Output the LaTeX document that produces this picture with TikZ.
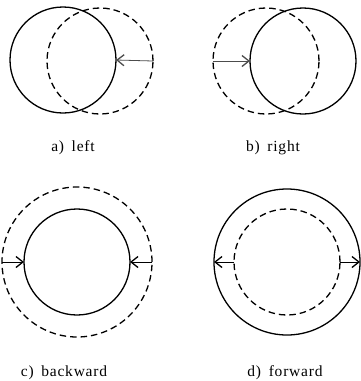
\documentclass[tikz,border=0pt]{standalone}
\usepackage{fontspec}
\setmainfont{Liberation Serif}
\newfontfamily\lblfont[LetterSpace=5]{Liberation Serif}
\usetikzlibrary{arrows.meta}
\tikzset{
  solidring/.style={circle,draw,line width=1.3pt,inner sep=0pt,outer sep=0pt},
  dashedring/.style={circle,draw,line width=1.3pt,dash pattern=on 6.5pt off 4pt,inner sep=0pt,outer sep=0pt},
  move/.style={line width=0.8pt,-{Straight Barb[length=7pt,width=11pt,line width=1.3pt]}},
  lbl/.style={font=\lblfont\fontsize{15.5}{17}\selectfont,inner sep=0pt}
}
\begin{document}
\begin{tikzpicture}[x=1pt,y=-1pt]
\useasboundingbox (0,0) rectangle (360,381);
% a) left
\node[solidring,minimum size=106pt] (as) at (63,60) {};
\node[dashedring,minimum size=106pt] (ad) at (100,61) {};
\draw[move,draw=black!70] (ad.east) -- (as.east);
\node[lbl] (al) at (73,148) {a)\hspace{3pt} left};
% b) right
\node[dashedring,minimum size=106pt] (bd) at (266,61) {};
\node[solidring,minimum size=106pt] (bs) at (303,61) {};
\draw[move,draw=black!70] (bd.west) -- (bs.west);
\node[lbl] (bl) at (273,148) {b)\hspace{3pt} right};
% c) backward
\node[dashedring,minimum size=150pt] (cd) at (77,262) {};
\node[solidring,minimum size=106pt] (cs) at (77,262) {};
\draw[move] (cd.west) -- (cs.west);
\draw[move] (cd.east) -- (cs.east);
\node[lbl] (cl) at (64,373) {c)\hspace{3pt} backward};
% d) forward
\node[solidring,minimum size=146pt] (ds) at (287,262) {};
\node[dashedring,minimum size=106pt] (dd) at (287,262) {};
\draw[move] (dd.west) -- (ds.west);
\draw[move] (dd.east) -- (ds.east);
\node[lbl] (dl) at (285,373) {d)\hspace{3pt} forward};
\end{tikzpicture}
\end{document}
